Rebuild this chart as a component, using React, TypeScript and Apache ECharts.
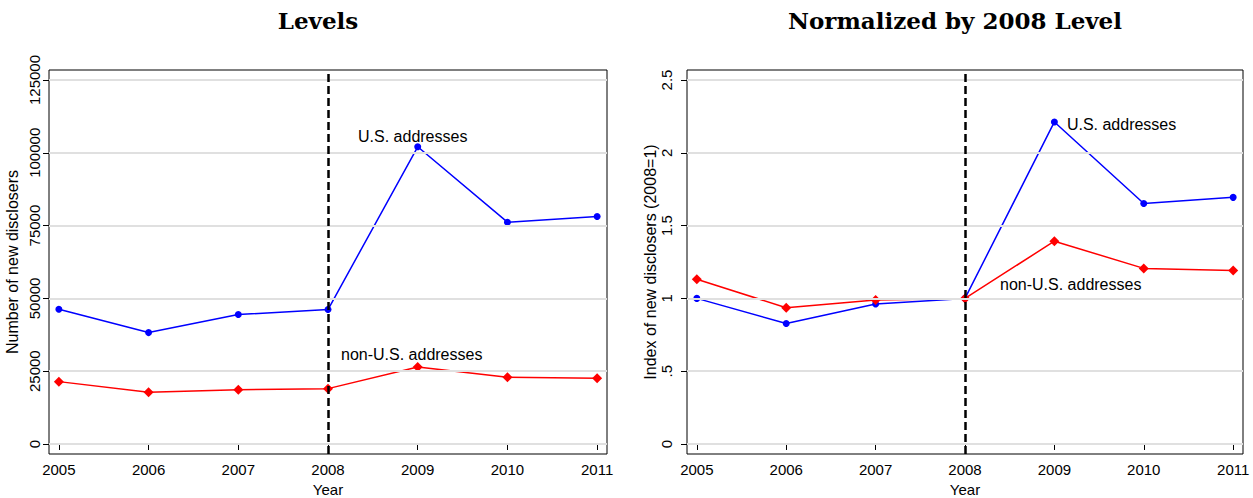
import React, { useEffect, useRef } from "react";
import * as echarts from "echarts";

const years = [2005, 2006, 2007, 2008, 2009, 2010, 2011];
const usLevels = [46277, 38259, 44444, 46163, 102062, 76174, 78121];
const nonUsLevels = [21420, 17755, 18671, 19015, 26460, 22910, 22566];
const usIndex = [1.0, 0.828, 0.961, 1.0, 2.212, 1.652, 1.694];
const nonUsIndex = [1.131, 0.936, 0.989, 1.0, 1.393, 1.206, 1.192];
const levelTicks = [0, 25000, 50000, 75000, 100000, 125000];
const indexTicks = [0, 0.5, 1, 1.5, 2, 2.5];
const indexTickLabels = ["0", ".5", "1", "1.5", "2", "2.5"];
const cutoffYear = 2008;
const titles = ["Levels", "Normalized by 2008 Level"];
const seriesNames = ["U.S. addresses", "non-U.S. addresses"];

const SANS = "Liberation Sans";

function xAxisCfg(gridIndex: number) {
  return {
    type: "value",
    gridIndex,
    min: 2004.89,
    max: 2011.11,
    name: "Year",
    nameLocation: "middle",
    nameGap: 26,
    nameTextStyle: { fontFamily: SANS, fontSize: 15, color: "#000" },
    axisLine: { show: false },
    splitLine: { show: false },
    axisTick: {
      show: true,
      customValues: years,
      length: 6,
      lineStyle: { color: "#000", width: 1 },
    },
    axisLabel: {
      customValues: years,
      formatter: (v: number) => String(v),
      fontFamily: SANS,
      fontSize: 15,
      color: "#000",
      margin: 8,
    },
  };
}

function yAxisCfg(
  gridIndex: number,
  min: number,
  max: number,
  ticks: number[],
  fmt: (v: number) => string,
  name: string,
  nameGap: number,
  labelMargin: number
) {
  return {
    type: "value",
    gridIndex,
    min,
    max,
    name,
    nameLocation: "middle",
    nameGap,
    nameRotate: 90,
    nameTextStyle: { fontFamily: SANS, fontSize: 16, color: "#000" },
    axisLine: { show: false },
    splitLine: { show: false },
    axisTick: {
      show: true,
      customValues: ticks,
      length: 6,
      lineStyle: { color: "#000", width: 1 },
    },
    axisLabel: {
      customValues: ticks,
      formatter: fmt,
      rotate: 90,
      fontFamily: SANS,
      fontSize: 15,
      color: "#000",
      margin: labelMargin,
    },
  };
}

function gridLineSeries(idx: number, ticks: number[]) {
  return {
    type: "line",
    xAxisIndex: idx,
    yAxisIndex: idx,
    data: [],
    z: 1,
    silent: true,
    markLine: {
      silent: true,
      symbol: ["none", "none"],
      label: { show: false },
      lineStyle: { color: "#e0e0e0", width: 2, type: "solid" },
      data: ticks.map((v) => ({ yAxis: v })),
    },
  };
}

function cutoffSeries(idx: number) {
  return {
    type: "line",
    xAxisIndex: idx,
    yAxisIndex: idx,
    data: [],
    z: 2,
    silent: true,
    markLine: {
      silent: true,
      symbol: ["none", "none"],
      label: { show: false },
      lineStyle: { color: "#000", width: 2.5, type: [8, 4] },
      data: [{ xAxis: cutoffYear }],
    },
  };
}

const labelFont = { fontFamily: SANS, fontSize: 16, color: "#000" };

function dataSeries(
  idx: number,
  name: string,
  values: number[],
  color: string,
  symbol: string,
  size: number,
  labelAt: number,
  label: any
) {
  return {
    type: "line",
    name,
    xAxisIndex: idx,
    yAxisIndex: idx,
    z: 3,
    symbol,
    symbolSize: size,
    itemStyle: { color },
    lineStyle: { color, width: 1.5 },
    data: years.map((y, i) =>
      i === labelAt
        ? { value: [y, values[i]], label: { show: true, formatter: name, ...labelFont, ...label } }
        : [y, values[i]]
    ),
  };
}

const gridBase = {
  top: 70,
  height: 384,
  show: true,
  borderColor: "#000",
  borderWidth: 1,
  backgroundColor: "transparent",
  containLabel: false,
  outerBoundsMode: "none",
};

export default function App() {
  const ref = useRef<HTMLDivElement>(null);
  useEffect(() => {
    document.body.style.margin = "0";
    const chart = echarts.init(ref.current!, null, { renderer: "svg" });
    const option: any = {
      animation: false,
      backgroundColor: "#fff",
      grid: [
        { ...gridBase, left: 49, width: 558 },
        { ...gridBase, left: 687, width: 556 },
      ],
      xAxis: [xAxisCfg(0), xAxisCfg(1)],
      yAxis: [
        yAxisCfg(0, -3434, 128434, levelTicks, (v: number) => String(v), "Number of new disclosers", 29, 7),
        yAxisCfg(
          1,
          -0.0687,
          2.5687,
          indexTicks,
          (v: number) => {
            const i = indexTicks.findIndex((t) => Math.abs(t - v) < 1e-9);
            return i >= 0 ? indexTickLabels[i] : String(v);
          },
          "Index of new disclosers (2008=1)",
          26,
          13
        ),
      ],
      graphic: [
        {
          type: "text",
          x: 318,
          y: 20,
          style: { text: titles[0], fontFamily: "DejaVu Serif", fontWeight: "bold", fontSize: 23, fill: "#000", align: "center", verticalAlign: "middle" },
        },
        {
          type: "text",
          x: 955,
          y: 20,
          style: { text: titles[1], fontFamily: "DejaVu Serif", fontWeight: "bold", fontSize: 23, fill: "#000", align: "center", verticalAlign: "middle" },
        },
      ],
      series: [
        gridLineSeries(0, levelTicks),
        gridLineSeries(1, indexTicks),
        cutoffSeries(0),
        cutoffSeries(1),
        dataSeries(0, seriesNames[0], usLevels, "#0000ff", "circle", 7, 4, { position: "top", distance: 1, offset: [-5, 2] }),
        dataSeries(0, seriesNames[1], nonUsLevels, "#ff0000", "diamond", 10, 4, { position: "top", distance: 1, offset: [-6, 2] }),
        dataSeries(1, seriesNames[0], usIndex, "#0000ff", "circle", 7, 4, { position: "right", distance: 9, offset: [0, 3] }),
        dataSeries(1, seriesNames[1], nonUsIndex, "#ff0000", "diamond", 10, 3, { position: "right", distance: 30, offset: [0, -14] }),
      ],
    };
    chart.setOption(option);
    return () => chart.dispose();
  }, []);
  return <div ref={ref} style={{ width: 1253, height: 498 }} />;
}
